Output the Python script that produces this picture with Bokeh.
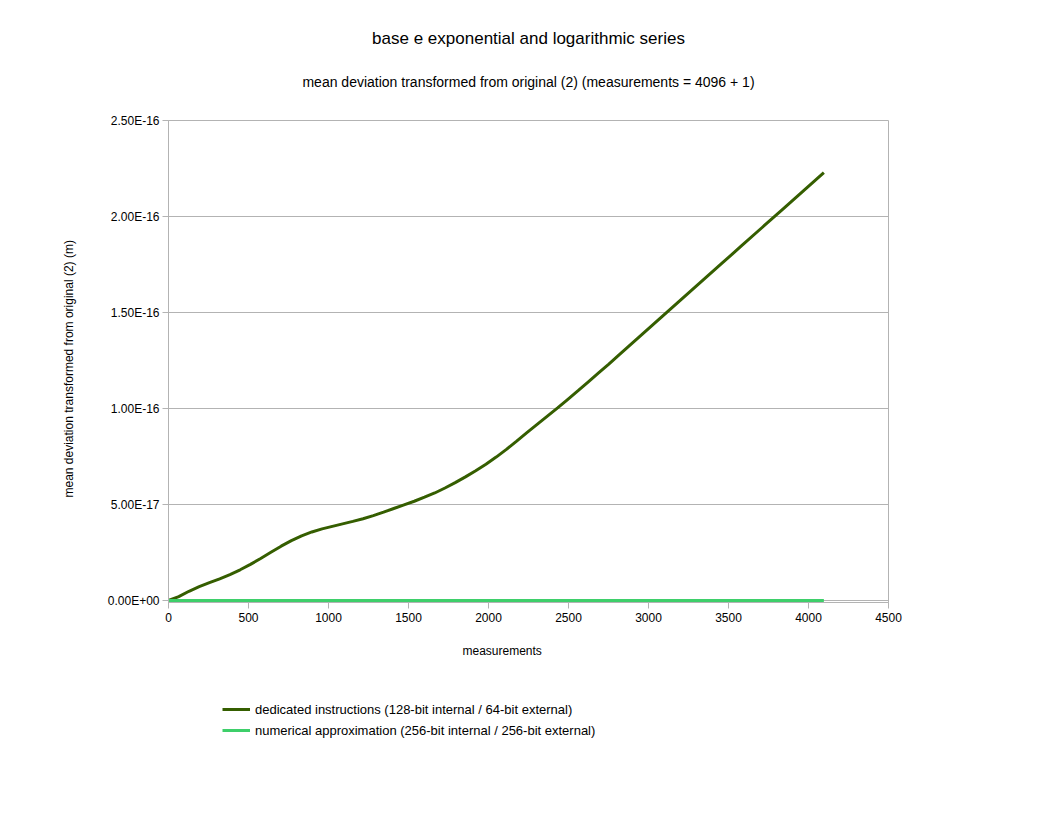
from bokeh.plotting import figure
from bokeh.layouts import column
from bokeh.models import (Range1d, FixedTicker, CustomJSTickFormatter, Title, Legend, LegendItem)
from bokeh.embed import file_html
from bokeh.resources import INLINE

# ---- data ----
measurements = [0, 64, 128, 192, 256, 320, 384, 448, 512, 576, 640, 704, 768, 832, 896, 960,
                1024, 1088, 1152, 1216, 1280, 1344, 1408, 1472, 1536, 1600, 1664, 1728, 1792,
                1856, 1920, 1984, 2048, 2112, 2176, 2240, 2304, 2368, 2432, 2496, 2560, 2624,
                2688, 2752, 2816, 2944, 3072, 3200, 3328, 3456, 3584, 3712, 3840, 3968, 4096]
dedicated_e17 = [0.0, 0.2, 0.48, 0.72, 0.93, 1.13, 1.35, 1.6, 1.88, 2.19, 2.51, 2.83, 3.12,
                 3.37, 3.57, 3.73, 3.86, 3.99, 4.12, 4.26, 4.42, 4.6, 4.79, 4.98, 5.17, 5.38,
                 5.6, 5.86, 6.14, 6.44, 6.76, 7.1, 7.47, 7.87, 8.3, 8.74, 9.17, 9.6, 10.03,
                 10.48, 10.93, 11.39, 11.85, 12.31, 12.79, 13.74, 14.69, 15.64, 16.59, 17.54,
                 18.49, 19.44, 20.39, 21.34, 22.29]
dedicated = [v * 1e-17 for v in dedicated_e17]
numerical = [0.0] * len(measurements)

x_ticks = [0, 500, 1000, 1500, 2000, 2500, 3000, 3500, 4000, 4500]
y_ticks = [0.0, 5e-17, 1e-16, 1.5e-16, 2e-16, 2.5e-16]

title_text = "base e exponential and logarithmic series"
subtitle_text = "mean deviation transformed from original (2) (measurements = 4096 + 1)"
x_label = "measurements"
y_label = "mean deviation transformed from original (2) (m)"
series_names = ["dedicated instructions (128-bit internal / 64-bit external)",
                "numerical approximation (256-bit internal / 256-bit external)"]
colors = ["#355e00", "#3ecf6a"]

FONT = "Liberation Sans"
GRID = "#b3b3b3"

# y range extended by 2 px below zero so the zero line is not half clipped
y_pad = 2.5e-16 / 480 * 2

p = figure(width=1040, height=680, output_backend="svg", toolbar_location=None,
           x_range=Range1d(0, 4500), y_range=Range1d(-y_pad, 2.5e-16),
           min_border_left=168, min_border_right=152, min_border_top=120,
           min_border_bottom=78)
p.title = None
p.background_fill_color = "white"
p.border_fill_color = "white"
p.outline_line_color = GRID

r1 = p.line(measurements, dedicated, line_color=colors[0], line_width=3)
r2 = p.line(measurements, numerical, line_color=colors[1], line_width=3)

p.xaxis.ticker = FixedTicker(ticks=x_ticks)
p.yaxis.ticker = FixedTicker(ticks=y_ticks)
p.yaxis.formatter = CustomJSTickFormatter(code="""
    if (Math.abs(tick) < 1e-30) return "0.00E+00";
    const e = Math.floor(Math.log10(Math.abs(tick)) + 1e-9);
    const m = tick / Math.pow(10, e);
    const s = e < 0 ? "-" : "+";
    const a = Math.abs(e);
    return m.toFixed(2) + "E" + s + (a < 10 ? "0" + a : "" + a);
""")
for ax in (p.xaxis, p.yaxis):
    ax.axis_line_color = GRID
    ax.major_tick_line_color = GRID
    ax.major_tick_out = 6
    ax.major_tick_in = 0
    ax.minor_tick_line_color = None
    ax.major_label_text_font = FONT
    ax.major_label_text_font_size = "12px"
    ax.major_label_text_color = "black"
p.xaxis.major_label_standoff = 4
p.yaxis.major_label_standoff = 3

p.xgrid.grid_line_color = None
p.ygrid.grid_line_color = GRID

# axis titles (offset along the axis like in the reference)
p.add_layout(Title(text=x_label, align="left", offset=294, text_font=FONT,
                   text_font_size="12px", text_font_style="normal", text_color="black",
                   standoff=34), "below")
p.add_layout(Title(text=y_label, align="left", offset=105, text_font=FONT,
                   text_font_size="12px", text_font_style="normal", text_color="black",
                   standoff=57), "left")

# spacer, subtitle, title (stacked upward from the frame)
p.add_layout(Title(text=" ", text_font_size="1px", standoff=9), "above")
p.add_layout(Title(text=subtitle_text, align="center", text_font=FONT,
                   text_font_size="14px", text_font_style="normal", text_color="black",
                   standoff=38), "above")
p.add_layout(Title(text=title_text, align="center", text_font=FONT,
                   text_font_size="17px", text_font_style="normal", text_color="black",
                   standoff=10), "above")

# legend strip below the chart
q = figure(width=1040, height=120, output_backend="svg", toolbar_location=None,
           x_range=Range1d(-2, -1), y_range=Range1d(-2, -1),
           x_axis_type=None, y_axis_type=None, min_border=0)
q.title = None
q.outline_line_color = None
q.xgrid.grid_line_color = None
q.ygrid.grid_line_color = None
q.background_fill_color = "white"
q.border_fill_color = "white"
l1 = q.line(measurements, dedicated, line_color=colors[0], line_width=3)
l2 = q.line(measurements, numerical, line_color=colors[1], line_width=3)
legend = Legend(items=[LegendItem(label=series_names[0], renderers=[l1]),
                       LegendItem(label=series_names[1], renderers=[l2])],
                location=(54, 60), orientation="vertical",
                border_line_color=None, background_fill_alpha=0,
                padding=0, margin=0, spacing=1, glyph_width=28, glyph_height=20,
                label_height=20, label_standoff=5, label_text_font=FONT,
                label_text_font_size="13px", label_text_color="black")
q.add_layout(legend, "center")

layout = column(p, q, spacing=0)
open("out.html", "w").write(file_html(layout, INLINE))
